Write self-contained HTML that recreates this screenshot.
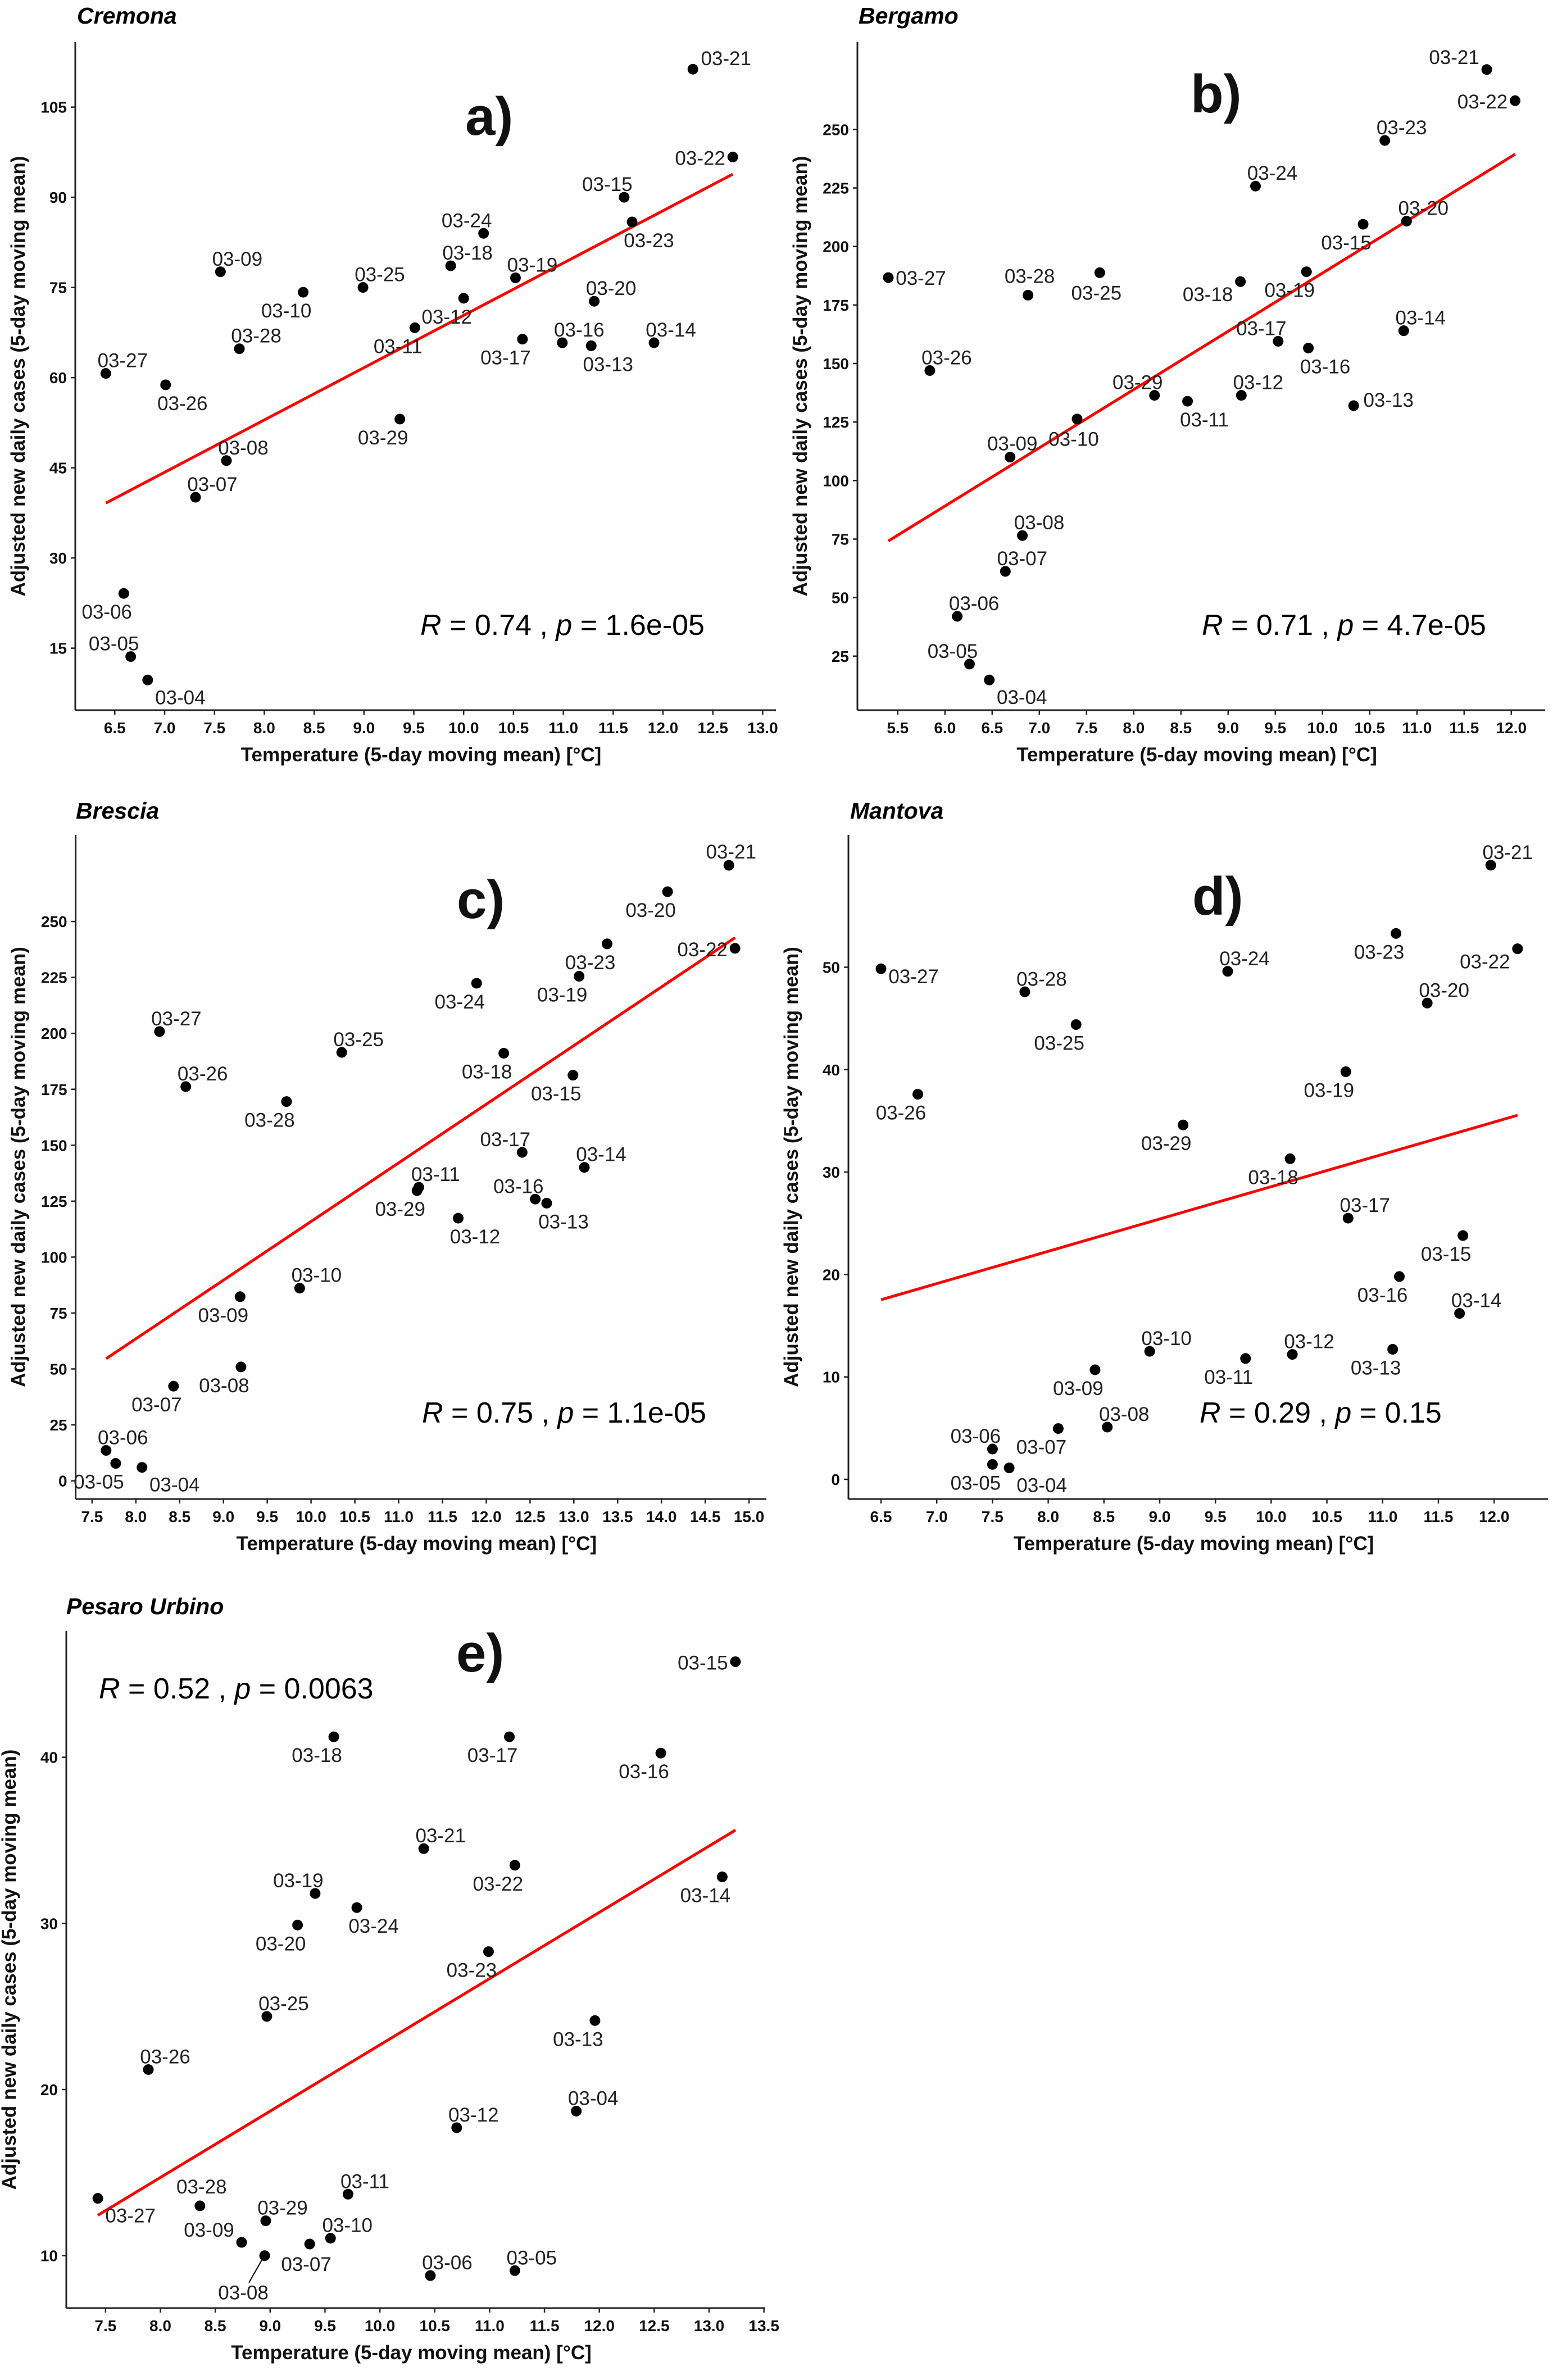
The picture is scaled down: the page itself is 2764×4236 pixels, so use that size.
<!DOCTYPE html>
<html><head><meta charset="utf-8">
<style>
html,body{margin:0;padding:0;background:#fff;}
svg{display:block;}
text{font-family:"Liberation Sans",Arial,sans-serif;}
</style></head>
<body>
<svg id="fig" xmlns="http://www.w3.org/2000/svg" width="2764" height="4236" viewBox="0 0 2764 4236">
<rect x="0" y="0" width="2764" height="4236" fill="#fff"/>
</svg>
<script>
// ---- data ----
const dates = ["03-04","03-05","03-06","03-07","03-08","03-09","03-10","03-11","03-12","03-13","03-14","03-15","03-16","03-17","03-18","03-19","03-20","03-21","03-22","03-23","03-24","03-25","03-26","03-27","03-28","03-29"];

const cremonaTemp  = [6.83,6.66,6.59,7.31,7.62,7.56,8.39,9.51,10.00,11.28,11.91,11.61,10.99,10.59,9.87,10.52,11.31,12.30,12.70,11.69,10.20,8.99,7.01,6.41,7.75,9.36];
const cremonaCases = [9.7,13.6,24.1,40.1,46.2,77.6,74.2,68.3,73.2,65.3,65.8,90.0,65.8,66.4,78.6,76.6,72.7,111.3,96.7,85.9,84.0,75.0,58.8,60.7,64.8,53.1];
const cremonaPos   = ["ese","nw","sw","ne","ne","ne","sw","sw","sw","se","ne","nw","ne","sw","ne","ne","ne","en","w","se","nw","ne","se","ne","ne","sw"];

const bergamoTemp  = [6.47,6.26,6.13,6.64,6.82,6.69,7.40,8.57,9.14,10.33,10.86,10.43,9.85,9.53,9.13,9.83,10.89,11.74,12.04,10.66,9.29,7.64,5.84,5.40,6.88,8.22];
const bergamoCases = [14.8,21.6,42.0,61.2,76.5,110.0,126.3,133.9,136.4,132.0,164.0,209.5,156.6,159.5,185.0,189.2,210.8,275.6,262.3,245.3,225.8,188.8,147.0,186.7,179.2,136.4];
const bergamoPos   = ["ese","nw","ne","ne","ne","n","s","se","ne","e0","ne","sw","se","nw","wsw","sw","ne","wnw","w","ne","ne","s","ne","e","nn","nw"];

const bresciaTemp  = [8.07,7.77,7.66,8.43,9.20,9.19,9.87,11.23,11.68,12.69,13.12,12.99,12.56,12.41,12.20,13.06,14.07,14.77,14.84,13.38,11.89,10.35,8.57,8.27,9.72,11.21];
const bresciaCases = [6.0,7.8,13.6,42.3,50.9,82.3,86.1,131.2,117.4,124.1,140.1,181.3,125.9,146.8,191.1,225.5,263.3,275.1,238.0,240.0,222.4,191.5,176.2,200.8,169.5,129.7];
const bresciaPos   = ["ese","sw","ne","sw","sw","sw","ne","ne","se","se","ne","sw","nw","nw","sw","sw","sw","n","w","sw","sw","ne","ne","ne","sw","sw"];

const mantovaTemp  = [7.65,7.50,7.50,8.09,8.53,8.42,8.91,9.77,10.19,11.09,11.69,11.72,11.15,10.69,10.17,10.67,11.40,11.97,12.21,11.12,9.61,8.25,6.83,6.50,7.79,9.21];
const mantovaCases = [1.12,1.46,2.96,4.96,5.1,10.7,12.5,11.8,12.2,12.7,16.2,23.8,19.8,25.5,31.3,39.8,46.5,59.96,51.8,53.3,49.6,44.4,37.6,49.85,47.6,34.6];
const mantovaPos   = ["ese","sw","nw","sw","ne","sw","ne","sw","ne","sw","ne","sw","sw","ne","sw","sw","ne","ne","wsw","sw","ne","sw","sw","es","ne","sw"];

const pesaroTemp  = [11.79,11.23,10.46,9.36,8.95,8.74,9.55,9.71,10.70,11.96,13.12,13.24,12.56,11.18,9.58,9.41,9.25,10.40,11.23,10.99,9.79,8.97,7.89,7.43,8.36,8.96];
const pesaroCases = [18.7,9.1,8.8,10.7,10.0,10.8,11.05,13.7,17.7,24.15,32.8,45.75,40.25,41.23,41.23,31.8,29.9,34.5,33.5,28.3,30.95,24.4,21.2,13.45,13.0,12.1];
const pesaroPos   = ["ne","ne","ne","s","leader","wnw","ne","ne","ne","sw","sw","w","sw","sw","sw","nw","sw","ne","sw","sw","se","ne","ne","ese","nn","ne"];

const cremonaXTicks = [6.5,7.0,7.5,8.0,8.5,9.0,9.5,10.0,10.5,11.0,11.5,12.0,12.5,13.0];
const cremonaYTicks = [15,30,45,60,75,90,105];
const bergamoXTicks = [5.5,6.0,6.5,7.0,7.5,8.0,8.5,9.0,9.5,10.0,10.5,11.0,11.5,12.0];
const bergamoYTicks = [25,50,75,100,125,150,175,200,225,250];
const bresciaXTicks = [7.5,8.0,8.5,9.0,9.5,10.0,10.5,11.0,11.5,12.0,12.5,13.0,13.5,14.0,14.5,15.0];
const bresciaYTicks = [0,25,50,75,100,125,150,175,200,225,250];
const mantovaXTicks = [6.5,7.0,7.5,8.0,8.5,9.0,9.5,10.0,10.5,11.0,11.5,12.0];
const mantovaYTicks = [0,10,20,30,40,50];
const pesaroXTicks = [7.5,8.0,8.5,9.0,9.5,10.0,10.5,11.0,11.5,12.0,12.5,13.0,13.5];
const pesaroYTicks = [10,20,30,40];

// ---- layout (pixel geometry, not data) ----
const OFF = {ne:[30,-11],nw:[-30,-11],n:[4,-12],nn:[3,-22],se:[30,45],sw:[-30,45],s:[-6,48],
  e:[58,13],es:[58,26],e0:[62,2],en:[59,-7],w:[-58,14],wnw:[-58,-10],wsw:[-58,35],ese:[58,43],leader:[-38,78]};

const panels = [
 {key:'cremona',title:'Cremona',tag:'a)',stat:['0.74','1.6e-05'],temp:cremonaTemp,cases:cremonaCases,pos:cremonaPos,xt:cremonaXTicks,yt:cremonaYTicks,
  ax:134,top:75,bot:1264,right:1381,xr:10,xp:825.2,xs:177.4,yr:105,yp:190.6,ys:10.70,tx:137,ty:42,lx:828,ly:240,sx:748,sy:1130},
 {key:'bergamo',title:'Bergamo',tag:'b)',stat:['0.71','4.7e-05'],temp:bergamoTemp,cases:bergamoCases,pos:bergamoPos,xt:bergamoXTicks,yt:bergamoYTicks,
  ax:1526,top:75,bot:1264,right:2750,xr:10,xp:2353.8,xs:168.0,yr:250,yp:230.4,ys:4.166,tx:1528,ty:42,lx:2119,ly:200,sx:2139,sy:1130},
 {key:'brescia',title:'Brescia',tag:'c)',stat:['0.75','1.1e-05'],temp:bresciaTemp,cases:bresciaCases,pos:bresciaPos,xt:bresciaXTicks,yt:bresciaYTicks,
  ax:134.6,top:1486,bot:2668,right:1364,xr:10,xp:553.6,xs:155.9,yr:0,yp:2635.6,ys:3.982,tx:135,ty:1457,lx:813,ly:1634,sx:751,sy:2532},
 {key:'mantova',title:'Mantova',tag:'d)',stat:['0.29','0.15'],temp:mantovaTemp,cases:mantovaCases,pos:mantovaPos,xt:mantovaXTicks,yt:mantovaYTicks,
  ax:1510,top:1486,bot:2668,right:2755,xr:10,xp:2262.4,xs:198.4,yr:0,yp:2633,ys:18.23,tx:1513,ty:1457,lx:2122,ly:1628,sx:2135,sy:2532},
 {key:'pesaro',title:'Pesaro Urbino',tag:'e)',stat:['0.52','0.0063'],temp:pesaroTemp,cases:pesaroCases,pos:pesaroPos,xt:pesaroXTicks,yt:pesaroYTicks,
  ax:118,top:2903,bot:4108,right:1362,xr:10,xp:676.1,xs:195.3,yr:10,yp:4014.7,ys:29.57,tx:118,ty:2873,lx:812,ly:2975,sx:176,sy:3023}
];

const NS='http://www.w3.org/2000/svg';
const svg=document.getElementById('fig');
function mk(tag,attrs,parent,txt){const e=document.createElementNS(NS,tag);for(const k in attrs)e.setAttribute(k,attrs[k]);if(txt!==undefined)e.textContent=txt;parent.appendChild(e);return e;}

panels.forEach(p=>{
  const X=v=>p.xp+(v-p.xr)*p.xs;
  const Y=v=>p.yp-(v-p.yr)*p.ys;
  const g=mk('g',{},svg);
  
  
  const t=mk('text',{x:p.tx,y:p.ty,'font-size':41,'font-weight':'bold','font-style':'italic',fill:'#000'},g,p.title);
  
  
  const ya=mk('line',{x1:p.ax,y1:p.top,x2:p.ax,y2:p.bot,stroke:'#222','stroke-width':3},g);
  
  
  const xa=mk('line',{x1:p.ax,y1:p.bot,x2:p.right,y2:p.bot,stroke:'#222','stroke-width':3},g);
  
  
  p.xt.forEach(v=>{
    const x=X(v);
    mk('line',{x1:x,y1:p.bot,x2:x,y2:p.bot+8,stroke:'#222','stroke-width':2.5},g);
    const tl=mk('text',{x:x,y:p.bot+41,'font-size':28,'font-weight':'bold','text-anchor':'middle',fill:'#111'},g,v.toFixed(1));
    
    
  });
  p.yt.forEach(v=>{
    const y=Y(v);
    mk('line',{x1:p.ax-8,y1:y,x2:p.ax,y2:y,stroke:'#222','stroke-width':2.5},g);
    const tl=mk('text',{x:p.ax-15,y:y+10,'font-size':28,'font-weight':'bold','text-anchor':'end',fill:'#111'},g,String(v));
    
    
  });
  const xtTitle=mk('text',{x:(p.ax+p.right)/2-8,y:p.bot+91,'font-size':35,'font-weight':'bold','text-anchor':'middle',fill:'#111'},g,'Temperature (5-day moving mean) [°C]');
  
  
  const cy=(p.top+p.bot)/2;
  const ytTitle=mk('text',{x:p.ax-90,y:cy,'font-size':35,'font-weight':'bold','text-anchor':'middle',fill:'#111',transform:`rotate(-90 ${p.ax-90} ${cy})`},g,'Adjusted new daily cases (5-day moving mean)');
  
  
  const tg=mk('text',{x:p.lx,y:p.ly,'font-size':96,'font-weight':'bold',fill:'#111'},g,p.tag);
  
  
  const st=mk('text',{x:p.sx,y:p.sy,'font-size':52,fill:'#000'},g);
  
  
  mk('tspan',{'font-style':'italic'},st,'R');
  mk('tspan',{},st,' = '+p.stat[0]+' , ');
  mk('tspan',{'font-style':'italic'},st,'p');
  mk('tspan',{},st,' = '+p.stat[1]);
  const n=p.temp.length;
  let mx=0,my=0;for(let i=0;i<n;i++){mx+=p.temp[i];my+=p.cases[i];}mx/=n;my/=n;
  let sxy=0,sxx=0;for(let i=0;i<n;i++){sxy+=(p.temp[i]-mx)*(p.cases[i]-my);sxx+=(p.temp[i]-mx)**2;}
  const b=sxy/sxx,a=my-b*mx;
  const x0=Math.min(...p.temp),x1=Math.max(...p.temp);
  const rl=mk('line',{x1:X(x0),y1:Y(a+b*x0),x2:X(x1),y2:Y(a+b*x1),stroke:'#f00','stroke-width':5},g);
  
  
  for(let i=0;i<n;i++){
    const px=X(p.temp[i]),py=Y(p.cases[i]);
    const c=mk('circle',{cx:px,cy:py,r:9.5,fill:'#000'},g);
    
    
    const o=OFF[p.pos[i]];
    if(p.pos[i]==='leader'){
      mk('line',{x1:px-4,y1:py+6,x2:px+o[0]+10,y2:py+o[1]-30,stroke:'#000','stroke-width':2},g);
    }
    const l=mk('text',{x:px+o[0],y:py+o[1],'font-size':35,'text-anchor':'middle',fill:'#222'},g,dates[i]);
    
    
  }
});
</script>
</body></html>
